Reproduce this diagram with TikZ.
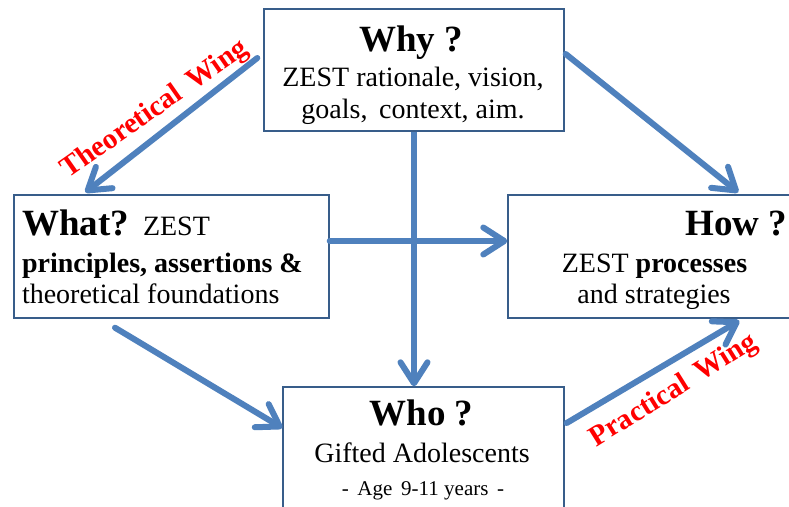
\documentclass[tikz,border=0pt]{standalone}
\usepackage{fontspec}
\setmainfont{Liberation Serif}
\usetikzlibrary{arrows.meta,calc}

\definecolor{flow}{HTML}{4F81BD}
\definecolor{frame}{HTML}{385D8A}
\definecolor{wing}{HTML}{FF0000}

\newcommand{\titlefont}{\fontsize{37}{44}\selectfont\bfseries}
\newcommand{\bodyfont}{\fontsize{28}{33}\selectfont}
\newcommand{\smallbody}{\fontsize{21}{25}\selectfont}
\newcommand{\wingfont}{\fontsize{29}{34}\selectfont\bfseries}

\tikzset{
  panel/.style={draw=frame, line width=1.4pt, fill=white, rectangle, inner sep=0pt},
  txt/.style={inner sep=0pt, outer sep=0pt, anchor=base},
  txtl/.style={inner sep=0pt, outer sep=0pt, anchor=base west},
  txtr/.style={inner sep=0pt, outer sep=0pt, anchor=base east},
  link/.style={draw=flow, line width=6pt, line cap=round,
    -{Straight Barb[length=21pt,width=27pt,round]}},
  plain/.style={draw=flow, line width=6pt, line cap=butt},
  winglabel/.style={inner sep=0pt, text=wing, font=\wingfont},
}

\begin{document}
\begin{tikzpicture}[x=1pt,y=-1pt]
  \useasboundingbox (0,0) rectangle (789,506);
  \clip (0,0) rectangle (789,506);
  \fill[white] (0,0) rectangle (789,506);

  % the four question boxes
  \node[panel, minimum width=300pt, minimum height=122pt] (why)  at (414,70)    {};
  \node[panel, minimum width=315pt, minimum height=123pt] (what) at (171.5,256.5) {};
  \node[panel, minimum width=292pt, minimum height=123pt] (how)  at (654,256.5)  {};
  \node[panel, minimum width=281pt, minimum height=133pt] (who)  at (423.5,453.5) {};

  % connectors
  \draw[plain] (why.south) -- ($(why.south |- who.north)+(0,-40)$);
  \draw[link] ($(why.south |- who.north)+(0,-45)$) coordinate (downmid) -- (why.south |- who.north);
  \draw[link] ($(what.east)+(0,-15.5)$) coordinate (across) -- (across -| how.west);
  \draw[link] ($(why.west)+(-6,-12)$) -- ($(what.north west)+(72,-2)$);
  \draw[link] ($(why.east)+(1,-16)$) -- ($(how.north west)+(231,-2)$);
  \draw[link] ($(what.south)+(-56.5,9)$) -- ($(who.west)+(0,-25.5)$);
  \draw[link] ($(who.east)+(2,-30.5)$) -- ($(how.south west)+(232,2)$);

  % Why box text
  \node[txt] (whyT) at (411,51) {\titlefont Why ?};
  \node[txt] (whyA) at (413,86) {\bodyfont ZEST rationale, vision,};
  \node[txt] (whyB) at (413,118) {\bodyfont goals,\, context, aim.};

  % What box text
  \node[txtl] (whatT) at (22,235) {\titlefont What?};
  \node[txtl] (whatZ) at (143,235) {\bodyfont ZEST};
  \node[txtl] (whatA) at (22,272) {\bodyfont\bfseries principles, assertions \&};
  \node[txtl] (whatB) at (22,303) {\bodyfont theoretical foundations};

  % How box text
  \node[txtr] (howT) at (787,235) {\titlefont How ?};
  \node[txt] (howA) at (654.5,272) {\bodyfont ZEST \textbf{processes}};
  \node[txt] (howB) at (654,303) {\bodyfont and strategies};

  % Who box text
  \node[txt] (whoT) at (421.5,425) {\titlefont Who ?};
  \node[txt] (whoA) at (422,462) {\bodyfont Gifted Adolescents};
  \node[txt] (whoB) at (423,495) {\smallbody -\, Age\, 9-11 years\, -};

  % wing labels
  \node[winglabel, rotate=35] (theo) at (155,110) {Theoretical\, Wing};
  \node[winglabel, rotate=32] (prac) at (674,391) {Practical\, Wing};
\end{tikzpicture}
\end{document}
